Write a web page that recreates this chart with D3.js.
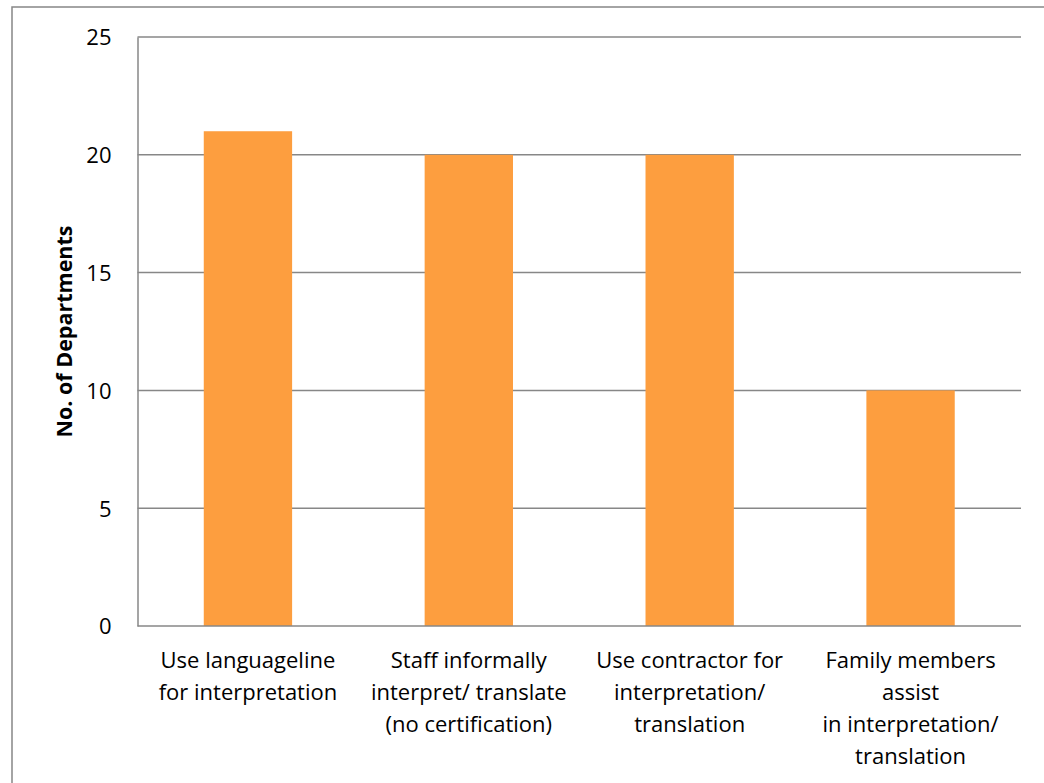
<!DOCTYPE html>
<html>
<head>
<meta charset="utf-8">
<script src="https://cdn.jsdelivr.net/npm/d3@7"></script>
<style>
  body { margin: 0; background: #fff; }
  svg text { font-family: "Open Sans", Lato, sans-serif; fill: #000; }
</style>
</head>
<body>
<div id="chart"></div>
<script>
// data
const categories = [
  ["Use languageline", "for interpretation"],
  ["Staff informally", "interpret/ translate", "(no certification)"],
  ["Use contractor for", "interpretation/", "translation"],
  ["Family members", "assist", "in interpretation/", "translation"]
];
const values = [21, 20, 20, 10];
const yTicks = [0, 5, 10, 15, 20, 25];
const yTitle = "No. of Departments";

// settings
const ttl_width = 1044, ttl_height = 783;
const margin = {top: 37, left: 137.5, right: 23, bottom: 157};
const width = ttl_width - margin.left - margin.right;
const height = ttl_height - margin.top - margin.bottom;
const grid_color = "#878787";

const svg = d3.select("#chart")
  .append("svg")
  .attr("width", ttl_width)
  .attr("height", ttl_height);

svg.append("rect")
  .attr("width", "100%")
  .attr("height", "100%")
  .attr("fill", "white");

// outer chart border (runs off the right and bottom edge)
svg.append("rect")
  .attr("x", 12)
  .attr("y", 7)
  .attr("width", ttl_width + 20)
  .attr("height", ttl_height + 20)
  .attr("fill", "none")
  .attr("stroke", grid_color)
  .attr("stroke-width", 1.5);

const g = svg.append("g")
  .attr("transform", "translate(" + margin.left + "," + margin.top + ")");

const x = d3.scaleBand()
  .domain(d3.range(values.length))
  .range([0, width])
  .paddingInner(0.6)
  .paddingOuter(0.3);

const y = d3.scaleLinear()
  .domain([0, 25])
  .range([height, 0]);

// gridlines
g.append("g")
  .selectAll("line")
  .data(yTicks.filter(d => d > 0))
  .join("line")
  .attr("x1", 0)
  .attr("x2", width)
  .attr("y1", d => y(d))
  .attr("y2", d => y(d))
  .attr("stroke", grid_color)
  .attr("stroke-width", 1.5);

// bars
g.append("g")
  .selectAll("rect")
  .data(values)
  .join("rect")
  .attr("x", (d, i) => x(i))
  .attr("y", d => y(d))
  .attr("width", x.bandwidth())
  .attr("height", d => y(0) - y(d))
  .attr("fill", "#FD9E3F");

// y axis
const yAxis = g.append("g")
  .call(d3.axisLeft(y).tickValues(yTicks).tickSize(0).tickPadding(26));
yAxis.select(".domain").attr("stroke", grid_color).attr("stroke-width", 1.5);
yAxis.selectAll("text")
  .attr("font-size", 22)
  .attr("dy", "0.36em");

// x axis baseline
g.append("line")
  .attr("x1", 0)
  .attr("x2", width)
  .attr("y1", height)
  .attr("y2", height)
  .attr("stroke", grid_color)
  .attr("stroke-width", 1.5);

// category labels
const labels = g.append("g")
  .selectAll("text")
  .data(categories)
  .join("text")
  .attr("text-anchor", "middle")
  .attr("font-size", 22)
  .attr("transform", (d, i) => "translate(" + (x(i) + x.bandwidth() / 2) + "," + (height + 42) + ")");

labels.selectAll("tspan")
  .data(d => d)
  .join("tspan")
  .attr("x", 0)
  .attr("y", (d, i) => i * 32)
  .text(d => d);

// y title
svg.append("text")
  .attr("transform", "translate(72," + (margin.top + height / 2) + ") rotate(-90)")
  .attr("text-anchor", "middle")
  .attr("font-size", 21.5)
  .attr("font-weight", "bold")
  .text(yTitle);
</script>
</body>
</html>
